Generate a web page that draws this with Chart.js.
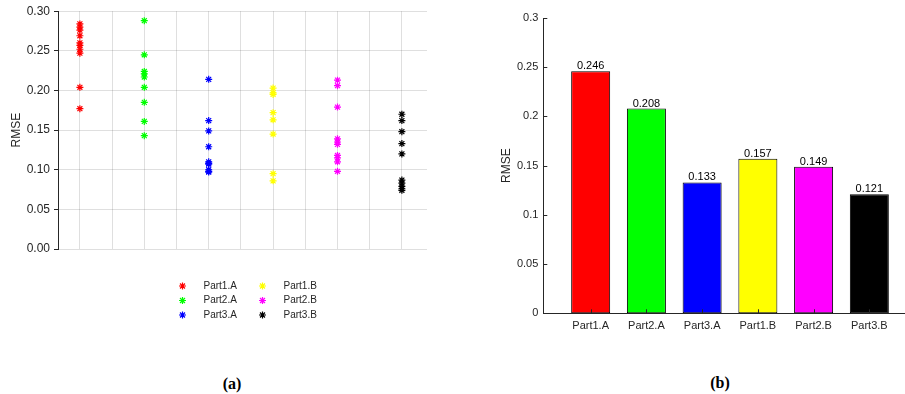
<!DOCTYPE html>
<html>
<head>
<meta charset="utf-8">
<script src="https://cdn.jsdelivr.net/npm/chart.js@4.4.0/dist/chart.umd.min.js"></script>
<style>
body{margin:0;background:#fff;width:905px;height:394px;position:relative;overflow:hidden}
#left{position:absolute;left:0;top:0;width:450px;height:340px}
#right{position:absolute;left:450px;top:0;width:455px;height:340px}
.cap{position:absolute;font:bold 16px "Liberation Serif","Times New Roman",serif;color:#000;transform:translate(-50%,-50%)}
</style>
</head>
<body>
<div id="left"><canvas id="scatterChart"></canvas></div>
<div id="right"><canvas id="barChart"></canvas></div>
<div class="cap" style="left:232px;top:384px">(a)</div>
<div class="cap" style="left:720px;top:383px">(b)</div>
<script>
// groups and colours
const groups=['Part1.A','Part2.A','Part3.A','Part1.B','Part2.B','Part3.B']
const colors=['#ff0000','#00ff00','#0000ff','#ffff00','#ff00ff','#000000']

// (a) RMSE of each run, per group
const part1A=[0.284,0.280,0.276,0.269,0.260,0.257,0.252,0.247,0.204,0.177]
const part2A=[0.288,0.245,0.224,0.221,0.217,0.204,0.185,0.161,0.143]
const part3A=[0.214,0.162,0.149,0.129,0.110,0.108,0.107,0.100,0.098,0.097]
const part1B=[0.203,0.197,0.195,0.172,0.163,0.145,0.095,0.086]
const part2B=[0.213,0.206,0.179,0.139,0.135,0.132,0.118,0.115,0.110,0.098]
const part3B=[0.170,0.162,0.148,0.133,0.120,0.087,0.083,0.079,0.076,0.074]
const runs=[part1A,part2A,part3A,part1B,part2B,part3B]

// (b) mean RMSE
const meanRmse=[0.246,0.208,0.133,0.157,0.149,0.121]

// axis ticks
const rmseTicks=[0,0.05,0.1,0.15,0.2,0.25,0.3]
const xGrid=[1,1.5,2,2.5,3,3.5,4,4.5,5,5.5,6]
const groupPos=[1,2,3,4,5,6]

const axisColor='#262626'
const gridColor='rgba(38,38,38,0.15)'
const sans='"Liberation Sans", Arial, Helvetica, sans-serif'

function drawStar(ctx,x,y,r){
ctx.beginPath()
ctx.moveTo(x-r,y);ctx.lineTo(x+r,y)
ctx.moveTo(x,y-r);ctx.lineTo(x,y+r)
const d=r*Math.SQRT1_2
ctx.moveTo(x-d,y-d);ctx.lineTo(x+d,y+d)
ctx.moveTo(x-d,y+d);ctx.lineTo(x+d,y-d)
ctx.stroke()
}

/* legend of (a): two columns, A parts left, B parts right */
const starLegend={
id:'starLegend',
afterDraw(chart){
const ctx=chart.ctx
const a=chart.chartArea
const cx=(a.left+a.right)/2
ctx.save()
ctx.font='10px '+sans
ctx.fillStyle=axisColor
ctx.textBaseline='middle'
ctx.lineWidth=1.2
groups.forEach((g,i)=>{
const col=Math.floor(i/3),row=i%3
const mx=cx-60+col*80
const my=a.bottom+37+row*14.5
ctx.strokeStyle=colors[i]
drawStar(ctx,mx,my,3.5)
ctx.fillText(g,mx+21,my)
})
ctx.restore()
}
}

new Chart(document.getElementById('scatterChart'),{
type:'scatter',
data:{
datasets:runs.map((vals,i)=>({
label:groups[i],
data:vals.map(v=>({x:groupPos[i],y:v})),
pointStyle:'star',
pointRadius:3.5,
pointBorderWidth:1.2,
borderColor:colors[i],
backgroundColor:colors[i]
}))
},
options:{
responsive:true,
maintainAspectRatio:false,
animation:false,
layout:{padding:{top:11,right:23,bottom:91,left:0}},
plugins:{legend:{display:false},tooltip:{enabled:false}},
scales:{
x:{
type:'linear',min:0.66,max:6.39,
afterBuildTicks:s=>{s.ticks=xGrid.map(v=>({value:v}))},
afterFit:s=>{s.height=0},
ticks:{display:false},
grid:{color:gridColor,drawTicks:false},
border:{display:false}
},
y:{
min:0,max:0.3,
afterBuildTicks:s=>{s.ticks=rmseTicks.map(v=>({value:v}))},
afterFit:s=>{s.width=58},
ticks:{callback:v=>v.toFixed(2),color:axisColor,font:{family:sans,size:12},padding:4},
grid:{color:gridColor,tickColor:axisColor,tickLength:4},
border:{color:axisColor,width:1},
title:{display:true,text:'RMSE',color:axisColor,font:{family:sans,size:12},padding:{top:9.5,bottom:0}}
}
}
},
plugins:[starLegend]
})

/* value labels and inward tick marks for (b) */
const barExtras={
id:'barExtras',
afterDatasetsDraw(chart){
const ctx=chart.ctx
const xs=chart.scales.x,ys=chart.scales.y
ctx.save()
ctx.font='11px '+sans
ctx.fillStyle='#000'
ctx.textAlign='center'
ctx.textBaseline='alphabetic'
chart.getDatasetMeta(0).data.forEach((bar,i)=>{
ctx.fillText(meanRmse[i].toFixed(3),bar.x,bar.y-2)
})
ctx.strokeStyle=axisColor
ctx.lineWidth=1
ys.ticks.forEach(t=>{
const y=Math.round(ys.getPixelForValue(t.value))+0.5
ctx.beginPath();ctx.moveTo(xs.left,y);ctx.lineTo(xs.left+4,y);ctx.stroke()
})
xs.ticks.forEach(t=>{
const x=Math.round(xs.getPixelForValue(t.value))+0.5
ctx.beginPath();ctx.moveTo(x,ys.bottom);ctx.lineTo(x,ys.bottom-4);ctx.stroke()
})
ctx.restore()
}
}

new Chart(document.getElementById('barChart'),{
type:'bar',
data:{
datasets:[{
label:'RMSE',
data:meanRmse.map((v,i)=>({x:groupPos[i],y:v})),
backgroundColor:colors,
borderColor:'#000',
borderWidth:1,
borderSkipped:false,
categoryPercentage:1,
barPercentage:0.7
}]
},
options:{
responsive:true,
maintainAspectRatio:false,
animation:false,
layout:{padding:{top:18,right:0,bottom:0,left:0}},
plugins:{legend:{display:false},tooltip:{enabled:false}},
scales:{
x:{
type:'linear',min:0.15,max:6.64,offset:false,
afterBuildTicks:s=>{s.ticks=groupPos.map(v=>({value:v}))},
afterFit:s=>{s.height=26.7},
ticks:{callback:v=>groups[v-1],color:axisColor,font:{family:sans,size:11},padding:6,maxRotation:0,autoSkip:false},
grid:{display:false,drawTicks:false},
border:{color:axisColor,width:1}
},
y:{
min:0,max:0.3,
afterBuildTicks:s=>{s.ticks=rmseTicks.map(v=>({value:v}))},
afterFit:s=>{s.width=93.3},
ticks:{callback:v=>String(+v.toFixed(2)),color:axisColor,font:{family:sans,size:11},padding:5},
grid:{display:false,drawTicks:false},
border:{color:axisColor,width:1},
title:{display:true,text:'RMSE',color:axisColor,font:{family:sans,size:12},padding:{top:49,bottom:0}}
}
}
},
plugins:[barExtras]
})
</script>
</body>
</html>
